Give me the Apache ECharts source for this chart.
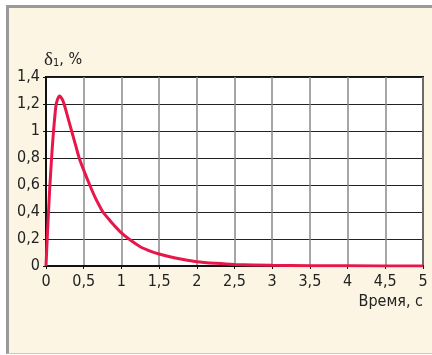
<!DOCTYPE html>
<html><head><meta charset="utf-8">
<script src="https://cdn.jsdelivr.net/npm/echarts@6/dist/echarts.min.js"></script>
<style>
html,body{margin:0;padding:0;background:#fff;}
#frame{position:absolute;left:6px;top:5px;width:426px;height:349px;background:#fdf5e4;border-top:3px solid #9a9a9a;border-left:3px solid #9a9a9a;border-bottom:1px solid #c8c8c8;box-sizing:border-box;}
#c{position:absolute;left:0;top:0;width:432px;height:355px;}
</style></head>
<body><div id="frame"></div><div id="c"></div>
<script>
const times  = [0, 0.02, 0.05, 0.08, 0.1, 0.13, 0.15, 0.18, 0.21, 0.24, 0.3, 0.34, 0.4, 0.44, 0.5, 0.58, 0.65, 0.7, 0.755, 0.85, 0.9, 1.0, 1.1, 1.25, 1.4, 1.5, 1.75, 2.0, 2.25, 2.5, 3.0, 3.5, 4.0, 5.0];
const values = [0, 0.25, 0.58, 0.85, 1.0, 1.18, 1.23, 1.26, 1.24, 1.2, 1.08, 1.0, 0.88, 0.8, 0.71, 0.6, 0.51, 0.455, 0.4, 0.335, 0.303, 0.245, 0.2, 0.143, 0.107, 0.089, 0.055, 0.032, 0.02, 0.012, 0.005, 0.002, 0.001, 0];
const yTitleMain = 'δ';
const yTitleSub = '1';
const yTitleUnit = ', %';
const xTitle = 'Время, с';
const fontFam = '"DejaVu Sans Condensed","Liberation Sans Narrow","Arial Narrow",sans-serif';
const fmt = v => String(v).replace('.', ',');
const chart = echarts.init(document.getElementById('c'), null, {renderer:'canvas'});
chart.setOption({
  animation:false,
  backgroundColor:'transparent',
  grid:{left:46, top:77, width:377, height:189, show:true, borderColor:'#111', borderWidth:2, backgroundColor:'#fff'},
  xAxis:{type:'value', min:0, max:5, interval:0.5,
    axisLine:{show:true, onZero:false, lineStyle:{color:'#111', width:2}},
    axisTick:{show:true, length:3, lineStyle:{color:'#111'}},
    axisLabel:{formatter:fmt, color:'#222', fontSize:16, fontFamily:fontFam, margin:8},
    splitLine:{show:true, lineStyle:{color:'#888', width:1.5}},
    name:xTitle, nameLocation:'end', nameGap:0,
    nameTextStyle:{color:'#222', fontSize:16, fontFamily:fontFam, align:'right', verticalAlign:'top', padding:[28,0,0,0]}
  },
  yAxis:{type:'value', min:0, max:1.4, interval:0.2,
    axisLine:{show:true, lineStyle:{color:'#111', width:2}},
    axisTick:{show:true, length:3, lineStyle:{color:'#111'}},
    axisLabel:{formatter:v=>fmt(Math.round(v*10)/10), color:'#222', fontSize:16, fontFamily:fontFam, margin:6},
    splitLine:{show:true, lineStyle:{color:'#222', width:1.2}},
    name:'{d|' + yTitleMain + '}{s|' + yTitleSub + '}{u|' + yTitleUnit + '}', nameLocation:'end', nameGap:6,
    nameTextStyle:{color:'#222', fontSize:16, fontFamily:fontFam, align:'left', padding:[0,0,0,-2],
      rich:{d:{fontSize:19, fontFamily:'"Liberation Serif",serif', color:'#222'},
            s:{fontSize:11, fontFamily:fontFam, color:'#222', verticalAlign:'bottom', padding:[6,0,0,0]},
            u:{fontSize:16, fontFamily:fontFam, color:'#222'}}}
  },
  series:[{type:'line', data:times.map((t,i)=>[t, values[i]]), smooth:0.25, symbol:'none',
    lineStyle:{color:'#e8174a', width:3}}]
});
</script></body></html>
